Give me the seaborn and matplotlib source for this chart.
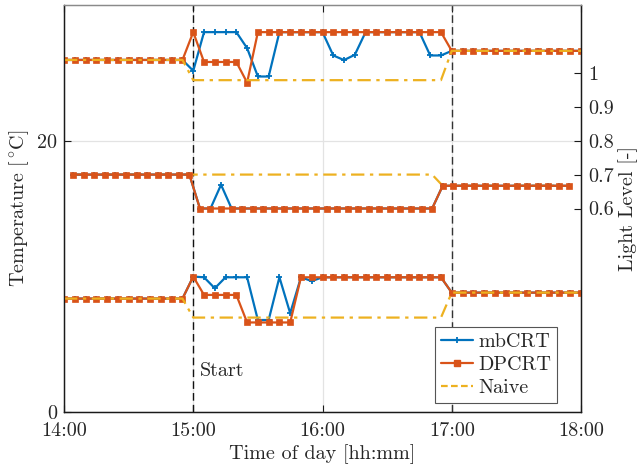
import numpy as np
import pandas as pd
import matplotlib
matplotlib.use("Agg")
import matplotlib.pyplot as plt
import seaborn as sns
from matplotlib.lines import Line2D

# ---------------- data ----------------
# 5-minute grid (minutes after 14:00), 14:00 .. 18:00
t_minutes = [0, 5, 10, 15, 20, 25, 30, 35, 40, 45, 50, 55,
             60, 65, 70, 75, 80, 85, 90, 95, 100, 105, 110, 115,
             120, 125, 130, 135, 140, 145, 150, 155, 160, 165, 170, 175,
             180, 185, 190, 195, 200, 205, 210, 215, 220, 225, 230, 235, 240]

# upper temperature group [degC]
top_mbcrt = [25.95]*12 + [25.15, 28.0, 28.0, 28.0, 28.0, 26.82, 24.73, 24.73,
                          28.0, 28.0, 28.0, 28.0, 28.0, 26.28, 25.94, 26.33,
                          28.0, 28.0, 28.0, 28.0, 28.0, 28.0, 26.28, 26.28] + [26.62]*13
top_dpcrt = [25.95]*12 + [28.0, 25.8, 25.8, 25.8, 25.8, 24.28] + [28.0]*18 + [26.62]*13
top_naive = [25.95]*12 + [24.46]*24 + [26.62]*13

# lower temperature group [degC]
low_mbcrt = [8.36]*12 + [9.98, 9.93, 9.12, 9.93, 9.93, 9.93, 6.78, 6.78,
                         9.93, 7.28, 9.93, 9.65] + [9.93]*12 + [8.8]*13
low_dpcrt = [8.36]*12 + [9.98, 8.63, 8.63, 8.63, 8.63, 6.6, 6.6, 6.6, 6.6, 6.6] + [9.93]*14 + [8.8]*13
low_naive = [8.36]*12 + [6.96]*24 + [8.8]*13

# light level samples (minutes after 14:00)
light_minutes = [4.3, 9.2, 14.1, 19.0, 23.9, 28.8, 33.7, 38.6, 43.5, 48.4, 53.3, 58.2,
                 63.1, 68.0, 72.9, 77.8, 82.7, 87.6, 92.5, 97.4, 102.3, 107.2, 112.1, 117.0,
                 121.9, 126.8, 131.7, 136.6, 141.5, 146.4, 151.3, 156.2, 161.1, 166.0, 170.9, 175.8,
                 180.7, 185.6, 190.5, 195.4, 200.3, 205.2, 210.1, 215.0, 219.9, 224.8, 229.7, 234.6]
light_mbcrt = [0.70]*12 + [0.60, 0.60, 0.67] + [0.60]*20 + [0.667]*13
light_dpcrt = [0.70]*12 + [0.60]*23 + [0.667]*13
light_naive = [0.70]*35 + [0.667]*13

x_tick_hours = [14, 15, 16, 17, 18]
x_tick_labels = ["14:00", "15:00", "16:00", "17:00", "18:00"]
left_ticks = [0, 20]
right_ticks = [0.6, 0.7, 0.8, 0.9, 1.0]
right_tick_labels = ["0.6", "0.7", "0.8", "0.9", "1"]
event_hours = [15, 17]

# ---------------- style ----------------
sns.set_theme(style="white")
plt.rcParams["font.family"] = ["cmr10", "DejaVu Serif"]
plt.rcParams["mathtext.fontset"] = "cm"
plt.rcParams["axes.formatter.use_mathtext"] = True
plt.rcParams["axes.unicode_minus"] = False

C_MB = "#0072BD"
C_DP = "#D95319"
C_NV = "#EDB120"
FS = 14.5

fig = plt.figure(figsize=(6.42, 4.70), dpi=100)
ax = fig.add_axes([64/642, 1-412/470, (581-64)/642, (412-5)/470])
ax2 = ax.twinx()

th = [14 + m/60 for m in t_minutes]
lh = [14 + m/60 for m in light_minutes]

def draw(a, x, y, kind, z):
    if kind == "mb":
        sns.lineplot(x=x, y=y, ax=a, color=C_MB, lw=1.6, marker="+", markersize=5,
                     markeredgewidth=1.3, markeredgecolor=C_MB,
                     estimator=None, sort=False, zorder=z)
    elif kind == "dp":
        sns.lineplot(x=x, y=y, ax=a, color=C_DP, lw=1.6, marker="s", markersize=3.8,
                     markeredgewidth=0.5, markeredgecolor=C_DP, estimator=None, sort=False, zorder=z)
    else:
        sns.lineplot(x=x, y=y, ax=a, color=C_NV, lw=1.6, linestyle=(0, (6, 2.5, 1.5, 2.5)),
                     estimator=None, sort=False, zorder=z)

for e, col in zip(event_hours, ["#111111", "#333333"]):
    ax.axvline(e, color=col, lw=1.0, ls=(0, (5.5, 3)), zorder=1.5)

draw(ax, th, top_mbcrt, "mb", 3)
draw(ax, th, top_dpcrt, "dp", 4)
draw(ax, th, top_naive, "nv", 5)
draw(ax, th, low_mbcrt, "mb", 3)
draw(ax, th, low_dpcrt, "dp", 4)
draw(ax, th, low_naive, "nv", 5)

draw(ax2, lh, light_naive, "nv", 3)
draw(ax2, lh, light_mbcrt, "mb", 4)
draw(ax2, lh, light_dpcrt, "dp", 5)

ax.set_xlim(14, 18)
ax.set_ylim(0, 30)
ax2.set_ylim(0, 1.2)

ax.set_xticks(x_tick_hours)
ax.set_xticklabels(x_tick_labels, fontsize=FS)
ax.set_yticks(left_ticks)
ax.set_yticklabels([str(v) for v in left_ticks], fontsize=FS)
ax2.set_yticks(right_ticks)
ax2.set_yticklabels(right_tick_labels, fontsize=FS)

ax.grid(True, color="#e3e3e3", lw=0.9)
ax2.grid(False)
ax.set_axisbelow(True)

ax.tick_params(axis="x", direction="in", length=5, width=0.8, color="k",
               top=True, bottom=True, pad=7)
ax.tick_params(axis="y", direction="in", length=5, width=0.8, color="k",
               left=True, right=False, pad=5)
ax2.tick_params(axis="y", direction="in", length=5, width=0.8, color="k", pad=5)

for a in (ax, ax2):
    for s in ["left", "right", "bottom"]:
        a.spines[s].set_color("k")
        a.spines[s].set_linewidth(0.9)
    a.spines["top"].set_color("#8a8a8a")
    a.spines["top"].set_linewidth(0.9)

ax.set_xlabel("Time of day [hh:mm]", fontsize=FS, labelpad=3)
ax.set_ylabel(r"Temperature [$^\circ\!$C]", fontsize=FS, labelpad=4)
ax2.set_ylabel("Light Level [-]", fontsize=FS, labelpad=3)

ax.text(15 + 2.9/60, 3.0, "Start", fontsize=FS, va="center", ha="left")

handles = [
    Line2D([], [], color=C_MB, lw=1.6, marker="+", markersize=5, markeredgewidth=1.3),
    Line2D([], [], color=C_DP, lw=1.6, marker="s", markersize=3.8),
    Line2D([], [], color=C_NV, lw=1.6, linestyle=(0, (3, 1.5))),
]
leg = ax2.legend(handles, ["mbCRT", "DPCRT", "Naive"], loc="lower right",
                 bbox_to_anchor=(0.9536, 0.022), fontsize=FS, frameon=True, fancybox=False,
                 framealpha=1, edgecolor="#555555", borderpad=0.3, labelspacing=0.25,
                 handlelength=1.6, handletextpad=0.25, borderaxespad=0.0)
leg.get_frame().set_linewidth(0.8)

fig.savefig("out.png", dpi=100)
